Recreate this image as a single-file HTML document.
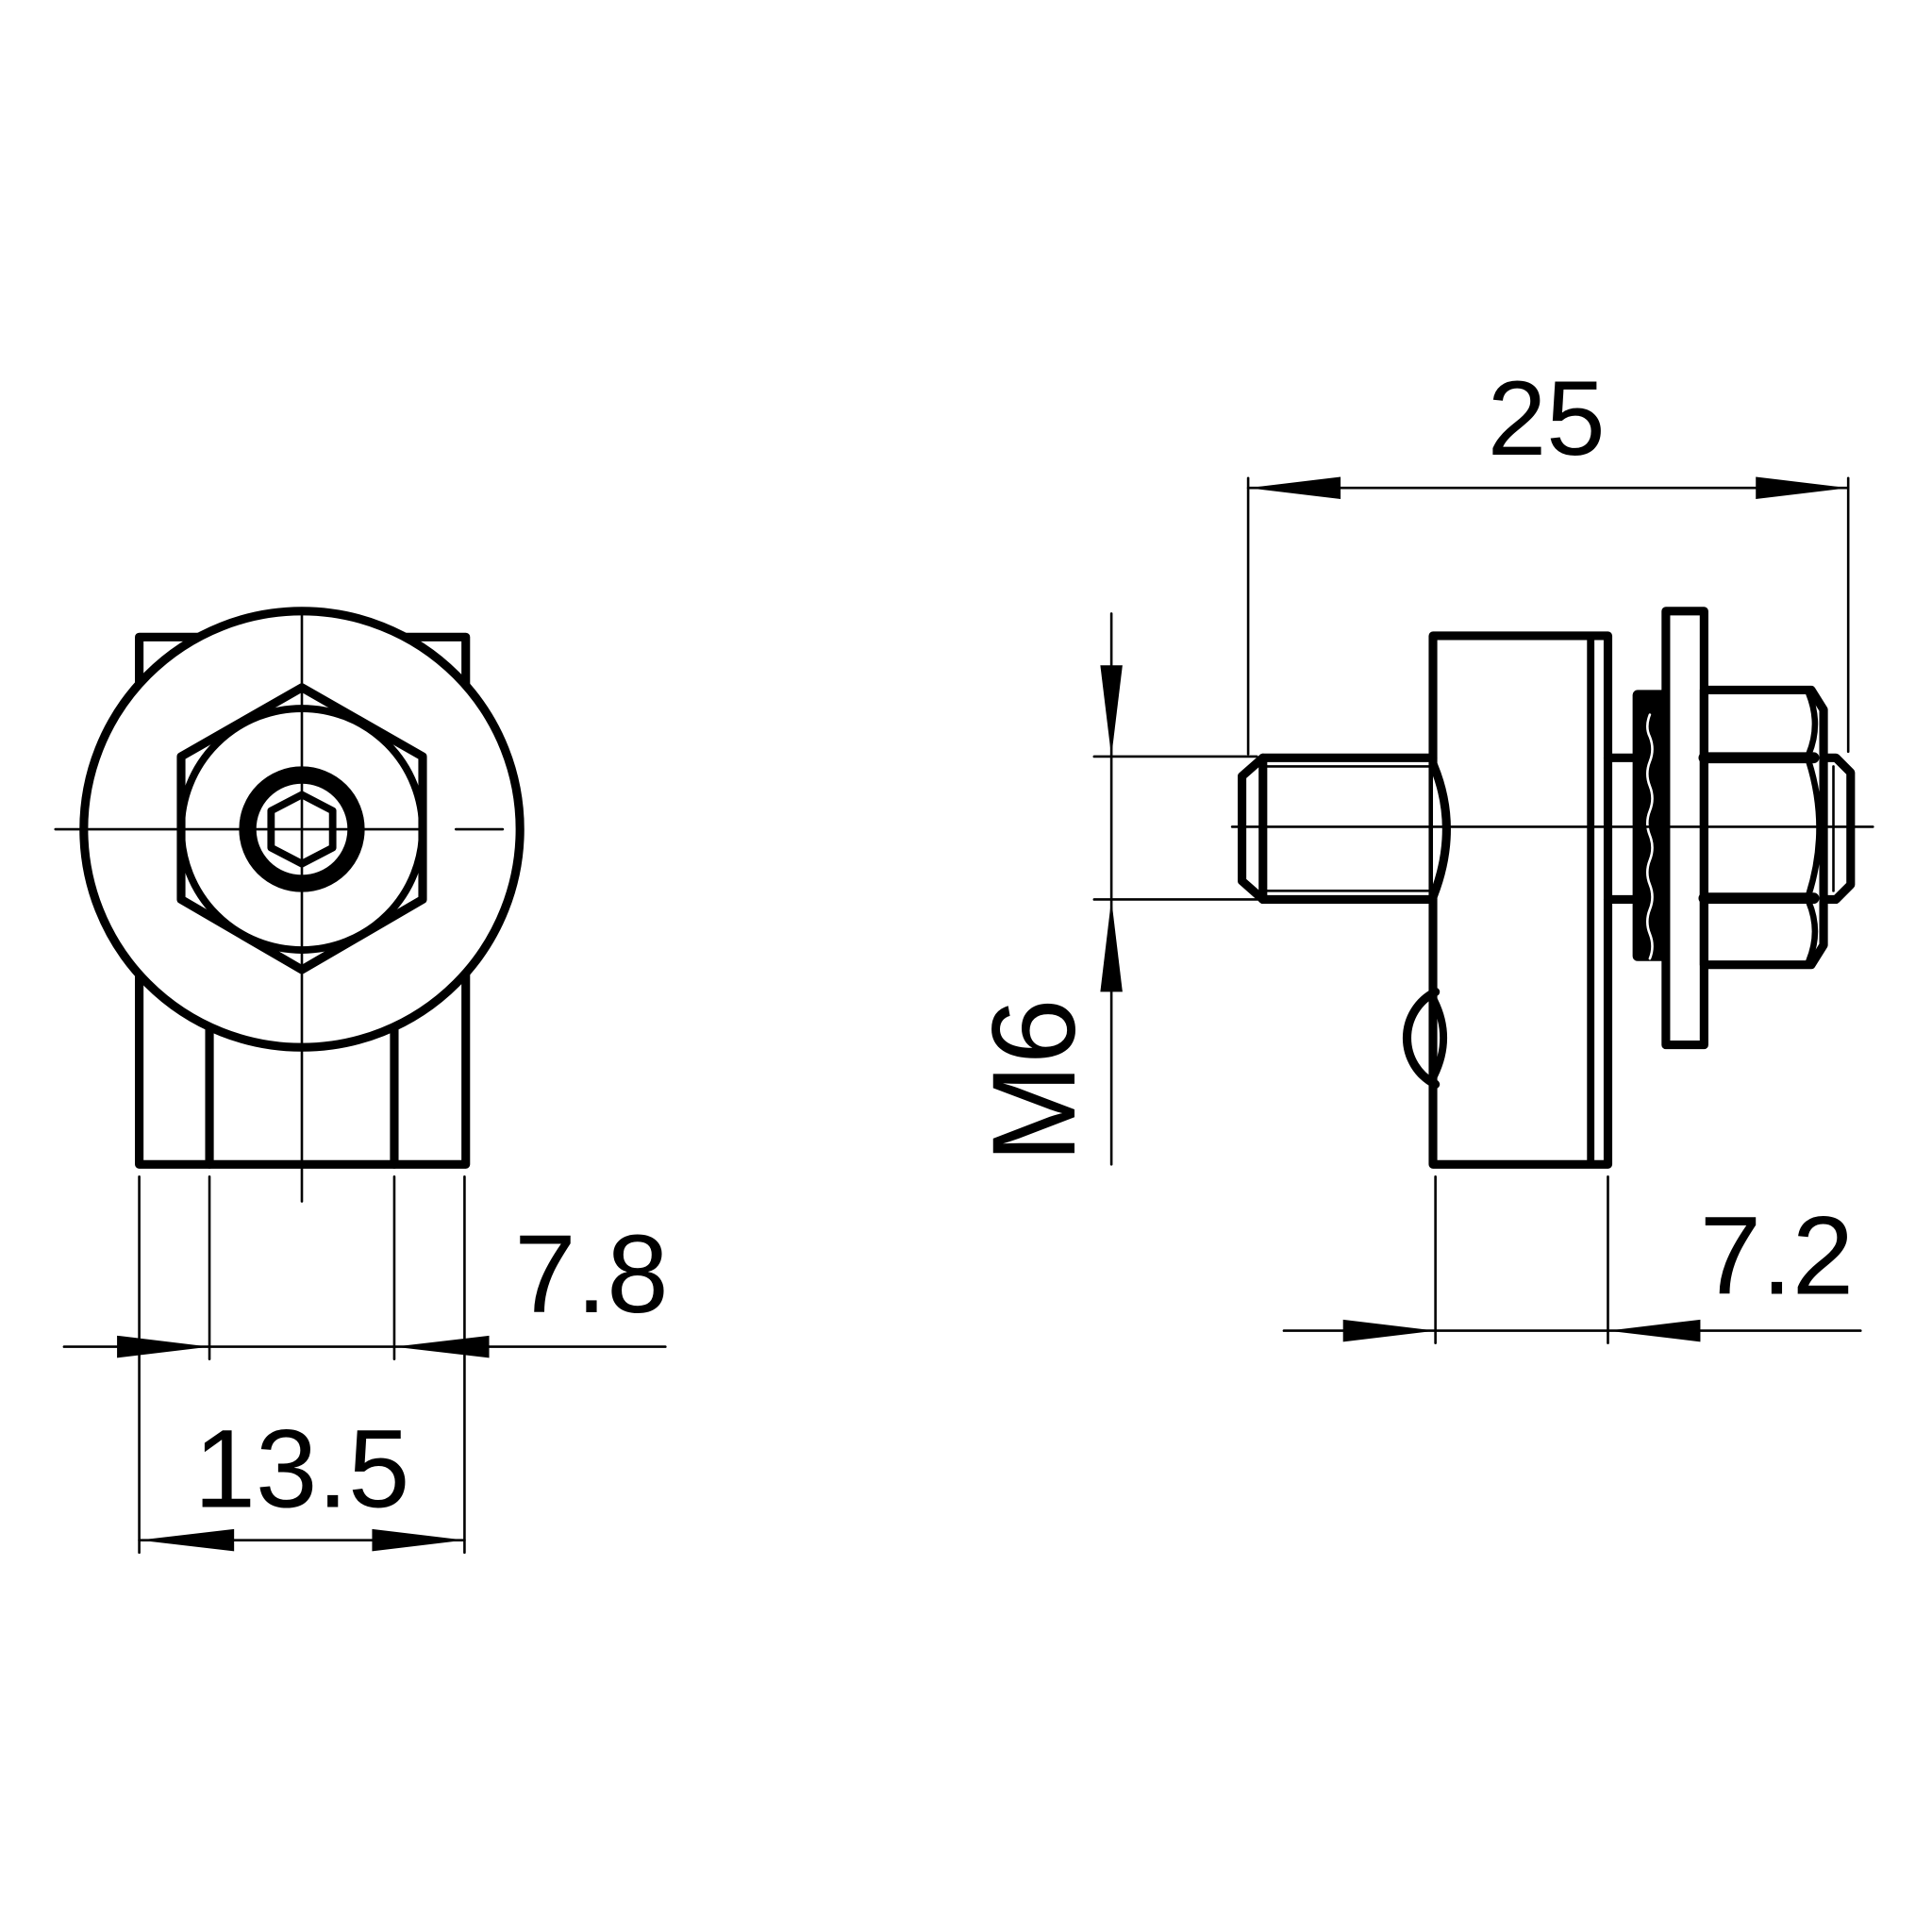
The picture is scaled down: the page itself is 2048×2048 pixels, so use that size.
<!DOCTYPE html>
<html><head><meta charset="utf-8"><style>
html,body{margin:0;padding:0;background:#fff}
svg{display:block}
text{font-family:"Liberation Sans",sans-serif;fill:#000}
</style></head><body>
<svg width="2048" height="2048" viewBox="0 0 1568 1568" xmlns="http://www.w3.org/2000/svg">
<g fill="none" stroke="#000" stroke-linejoin="round" stroke-linecap="round">
<!-- LEFT VIEW -->
<rect x="113" y="517" width="265" height="428" stroke-width="7"/>
<line x1="170" y1="820" x2="170" y2="945" stroke-width="7"/>
<line x1="320" y1="820" x2="320" y2="945" stroke-width="7"/>
<circle cx="245" cy="673" r="177" fill="#fff" stroke-width="7"/>
<polygon points="245,558 343,614 343,730 245,787 147,730 147,614" stroke-width="7"/>
<circle cx="245" cy="673" r="98" stroke-width="6"/>
<circle cx="245" cy="673" r="44" stroke-width="14"/>
<polygon points="245,645 270,658 270,688 245,701 220,688 220,658" stroke-width="6"/>
<line x1="45" y1="673" x2="345" y2="673" stroke-width="2"/>
<line x1="370" y1="673" x2="408" y2="673" stroke-width="2"/>
<line x1="245" y1="497" x2="245" y2="975" stroke-width="2"/>
<!-- left dims -->
<g stroke-width="2">
<line x1="113" y1="955" x2="113" y2="1260"/>
<line x1="377" y1="955" x2="377" y2="1260"/>
<line x1="170" y1="955" x2="170" y2="1103"/>
<line x1="320" y1="955" x2="320" y2="1103"/>
<line x1="52" y1="1093" x2="540" y2="1093"/>
<line x1="113" y1="1250" x2="377" y2="1250"/>
</g>
<!-- RIGHT VIEW -->
<rect x="1163" y="516" width="142" height="429" stroke-width="7"/>
<line x1="1291" y1="516" x2="1291" y2="945" stroke-width="6"/>
<!-- shank -->
<path d="M1163,615 H1025 L1008,630 V715 L1025,730 H1163" stroke-width="7"/>
<line x1="1025" y1="615" x2="1025" y2="730" stroke-width="7"/>
<line x1="1025" y1="622" x2="1163" y2="622" stroke-width="2"/>
<line x1="1025" y1="723" x2="1163" y2="723" stroke-width="2"/>
<path d="M1163,620 Q1185,672 1163,728" stroke-width="7" fill="#fff"/>
<line x1="1305" y1="615" x2="1328" y2="615" stroke-width="7"/>
<line x1="1305" y1="730" x2="1328" y2="730" stroke-width="7"/>
<!-- bump -->
<path d="M1165,805 A42,42 0 0 0 1165,880" stroke-width="7"/>
<path d="M1163,810 Q1180,842 1163,875" stroke-width="6"/>
<!-- lock washer -->
<rect x="1329" y="564" width="21" height="212" stroke-width="8" fill="#000"/>
<path d="M1339,580 q-4,10 0,18 q4,10 0,20 q-4,10 0,20 q4,10 0,20 q-4,10 0,20 q4,10 0,20 q-4,10 0,20 q4,10 0,20 q-4,10 0,20 q4,10 0,20" stroke="#fff" stroke-width="2"/>
<!-- washer -->
<rect x="1352" y="496" width="31" height="352" stroke-width="7"/>
<!-- nut -->
<path d="M1383,560 H1470 L1480,576 V767 L1470,783 H1383 Z" stroke-width="7"/>
<line x1="1383" y1="615" x2="1472" y2="615" stroke-width="9"/>
<line x1="1383" y1="729" x2="1472" y2="729" stroke-width="9"/>
<path d="M1468,563 Q1478,588 1468,612" stroke-width="5"/>
<path d="M1468,618 Q1485,672 1468,726" stroke-width="5"/>
<path d="M1468,732 Q1478,756 1468,780" stroke-width="5"/>
<!-- bolt end -->
<path d="M1480,615 H1490 L1502,627 V718 L1490,730 H1480" stroke-width="7"/>
<line x1="1488" y1="622" x2="1488" y2="723" stroke-width="2"/>
<line x1="1000" y1="671" x2="1520" y2="671" stroke-width="2"/>
<!-- right dims -->
<g stroke-width="2">
<line x1="1013" y1="388" x2="1013" y2="612"/>
<line x1="1500" y1="388" x2="1500" y2="610"/>
<line x1="1013" y1="396" x2="1500" y2="396"/>
<line x1="888" y1="614" x2="1020" y2="614"/>
<line x1="888" y1="730" x2="1020" y2="730"/>
<line x1="902" y1="498" x2="902" y2="945"/>
<line x1="1165" y1="955" x2="1165" y2="1090"/>
<line x1="1305" y1="955" x2="1305" y2="1090"/>
<line x1="1042" y1="1080" x2="1510" y2="1080"/>
</g>
</g>
<g fill="#000">
<polygon points="170,1093 95,1084 95,1102"/>
<polygon points="320,1093 397,1084 397,1102"/>
<polygon points="113,1250 190,1241 190,1259"/>
<polygon points="377,1250 302,1241 302,1259"/>
<polygon points="1013,396 1088,387 1088,405"/>
<polygon points="1500,396 1425,387 1425,405"/>
<polygon points="902,614 893,540 911,540"/>
<polygon points="902,730 893,805 911,805"/>
<polygon points="1165,1080 1090,1071 1090,1089"/>
<polygon points="1305,1080 1380,1071 1380,1089"/>
</g>
<text x="480" y="1065" font-size="90" text-anchor="middle">7.8</text>
<text x="245" y="1223" font-size="90" text-anchor="middle">13.5</text>
<text x="1255" y="369" font-size="86" text-anchor="middle">25</text>
<text x="1442" y="1050" font-size="90" text-anchor="middle">7.2</text>
<text x="0" y="0" font-size="96" text-anchor="middle" transform="translate(872,877) rotate(-90)">M6</text>
</svg>
</body></html>
